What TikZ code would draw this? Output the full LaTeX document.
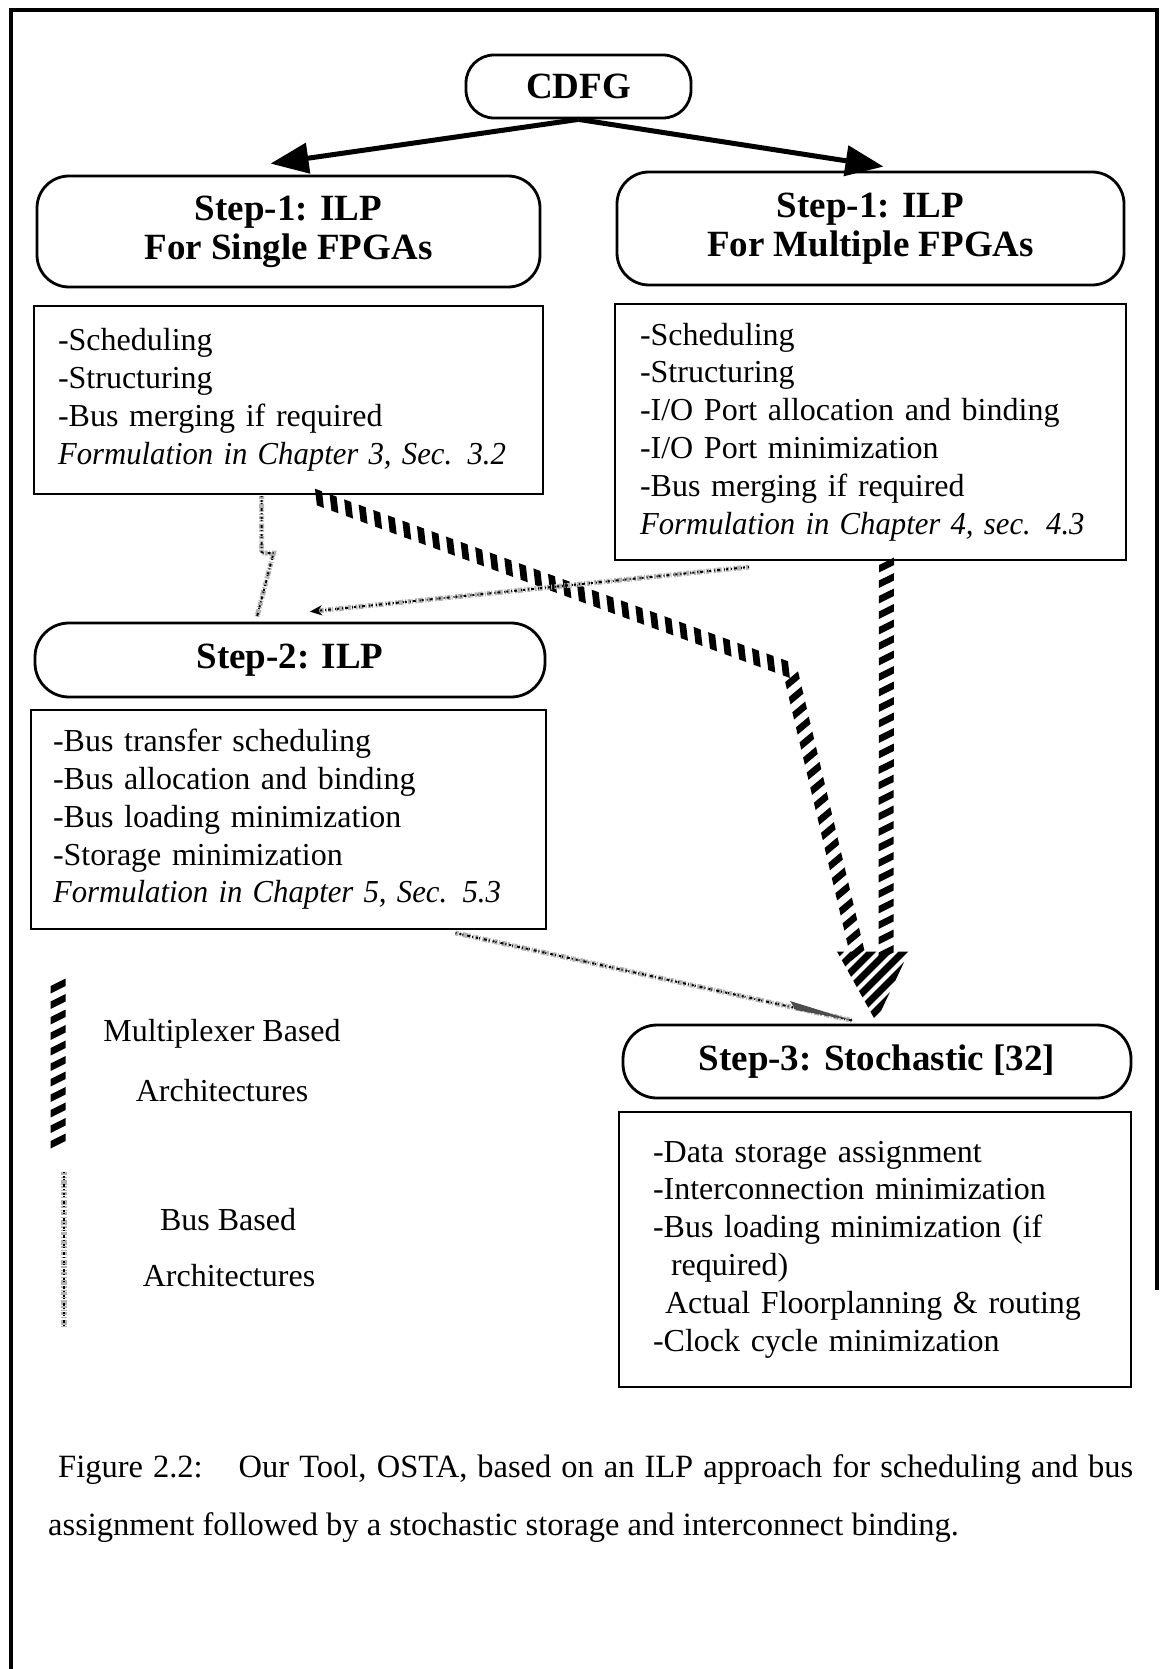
\documentclass[tikz,border=0pt]{standalone}
\usepackage{graphicx}
\usepackage{fontspec}
\setmainfont{Liberation Serif}
\usetikzlibrary{calc,arrows.meta,decorations.markings}

% italic reference line, kept on one line and slightly condensed
\newcommand{\formref}[1]{\scalebox{0.96}[1]{\itshape #1}}

\begin{document}
\begin{tikzpicture}[x=1pt,y=-1pt,
  stepbox/.style={draw, line width=2.8pt, rounded corners=32pt, inner sep=0pt,
    align=center, font=\bfseries\fontsize{37}{39}\selectfont},
  listbox/.style={draw, line width=2pt, rectangle, inner ysep=0pt, align=left,
    font=\fontsize{32}{37.8}\selectfont},
  flowarrow/.style={line width=5pt, -{Triangle[length=38pt,width=30pt]}},
  mux/.style={decoration={markings,
      mark=between positions 0 and 1 step 15.5pt with
      {\fill (1pt,-7.5pt) -- (8.5pt,-7.5pt) -- (1pt,7.5pt) -- (-6.5pt,7.5pt) -- cycle;}},
    decorate},
  bus/.style={line width=5pt, black!30,
    dash pattern=on 3pt off 1.5pt on 1pt off 2pt on 5pt off 1pt on 2pt off 2.5pt on 1pt off 1pt,
    postaction={draw, black, line width=2pt,
      dash pattern=on 1pt off 3pt on 2pt off 1pt on 1pt off 4pt on 3pt off 2pt}},
  legend/.style={font=\fontsize{32}{38}\selectfont},
  caption/.style={font=\fontsize{32.5}{38}\selectfont, anchor=base west, inner sep=0pt}]

\useasboundingbox (0,0) rectangle (1160,1669);
\fill[white] (0,0) rectangle (1160,1669);

% page frame
\draw[line width=4pt] (11,1669) -- (11,10) -- (1157,10) -- (1157,1290);

% flow nodes
\node[stepbox, rounded corners=28pt, minimum width=225pt, minimum height=63pt] (cdfg) at (578.5,86.5) {CDFG};
\node[stepbox, minimum width=503pt, minimum height=111pt] (s1l) at (288.5,231.5) {Step-1: ILP\\For Single FPGAs};
\node[stepbox, minimum width=507pt, minimum height=113pt] (s1r) at (870.5,228.5) {Step-1: ILP\\For Multiple FPGAs};

\node[listbox, inner xsep=24pt, text width=461pt, minimum height=188pt] (b1l) at (288.5,400)
  {-Scheduling\\-Structuring\\-Bus merging if required\\\formref{Formulation in Chapter 3, Sec. 3.2}};
\node[listbox, inner xsep=25pt, text width=461pt, minimum height=256pt] (b1r) at (870.5,432)
  {-Scheduling\\-Structuring\\-I/O Port allocation and binding\\-I/O Port minimization\\-Bus merging if required\\\formref{Formulation in Chapter 4, sec. 4.3}};

\node[stepbox, rounded corners=34pt, minimum width=510pt, minimum height=74pt] (s2) at (290,660) {Step-2: ILP};
\node[listbox, inner xsep=22pt, text width=471pt, minimum height=219pt] (b2) at (288.5,819.5)
  {-Bus transfer scheduling\\-Bus allocation and binding\\-Bus loading minimization\\-Storage minimization\\\formref{Formulation in Chapter 5, Sec. 5.3}};

\node[stepbox, rounded corners=34pt, minimum width=508pt, minimum height=73pt] (s3) at (877,1061.5) {Step-3: Stochastic [32]};
\node[listbox, inner xsep=34pt, text width=444pt, minimum height=275pt] (b3) at (875,1249.5)
  {-Data storage assignment\\-Interconnection minimization\\-Bus loading minimization (if\\\hspace*{18pt}required)\\\hspace*{12pt}Actual Floorplanning \& routing\\-Clock cycle minimization};

% CDFG to the two ILP formulations
\draw[flowarrow] (cdfg.south) -- ($(s1l.north)+(-18,-11)$);
\draw[flowarrow] (cdfg.south) -- ($(s1r.north)+(13,-4)$);

% multiplexer based paths into Step-3
\coordinate (mbend) at (790,670);
\coordinate (mjoin) at ($(s3.north)+(0,-72)$);
\path[mux] ($(b1l.south)+(30,3)$) -- (mbend) -- ($(mjoin)+(-20,0)$);
\path[mux] ($(b1r.south)+(16,3)$) -- ($(mjoin)+(9,0)$);
\begin{scope}
  \clip ($(mjoin)+(-40,0)$) -- ($(mjoin)+(32,0)$) -- ($(s3.north)+(-1,-2)$) -- cycle;
  \foreach \c in {915,931,...,1125}
    \draw[line width=7pt] (776,\c+100) -- (976,\c-100);
\end{scope}

% bus based paths
\draw[bus] ($(b1l.south)+(-27,1)$) -- ++(0,57) -- ++(12,0) -- ($(s2.north)+(-33,-5)$);
\draw[bus, -{Stealth[length=12pt,width=10pt]}] ($(b1r.south west)+(135,6)$) -- ($(s2.north)+(20,-10)$);
\draw[bus] ($(b2.south)+(167,3)$) -- ($(s3.north)+(-24,-3)$);
\fill[black!70] (790,1001) -- ($(s3.north)+(-24,-3)$) -- (796,1010) -- cycle;

% legend
\path[mux] (58,985) -- (58,1142);
\draw[bus, line width=6pt] (64,1172) -- (64,1326);
\node[legend] (lm1) at (222,1034) {Multiplexer Based};
\node[legend] (lm2) at (222,1091) {Architectures};
\node[legend] (lb1) at (228,1220) {Bus Based};
\node[legend] (lb2) at (229,1276) {Architectures};

% caption
\node[caption] (cap1) at (58,1477) {\makebox[1075pt][s]{Figure 2.2:\hspace*{36pt}Our Tool, OSTA, based on an ILP approach for scheduling and bus}};
\node[caption] (cap2) at (48,1535) {assignment followed by a stochastic storage and interconnect binding.};
\end{tikzpicture}
\end{document}
